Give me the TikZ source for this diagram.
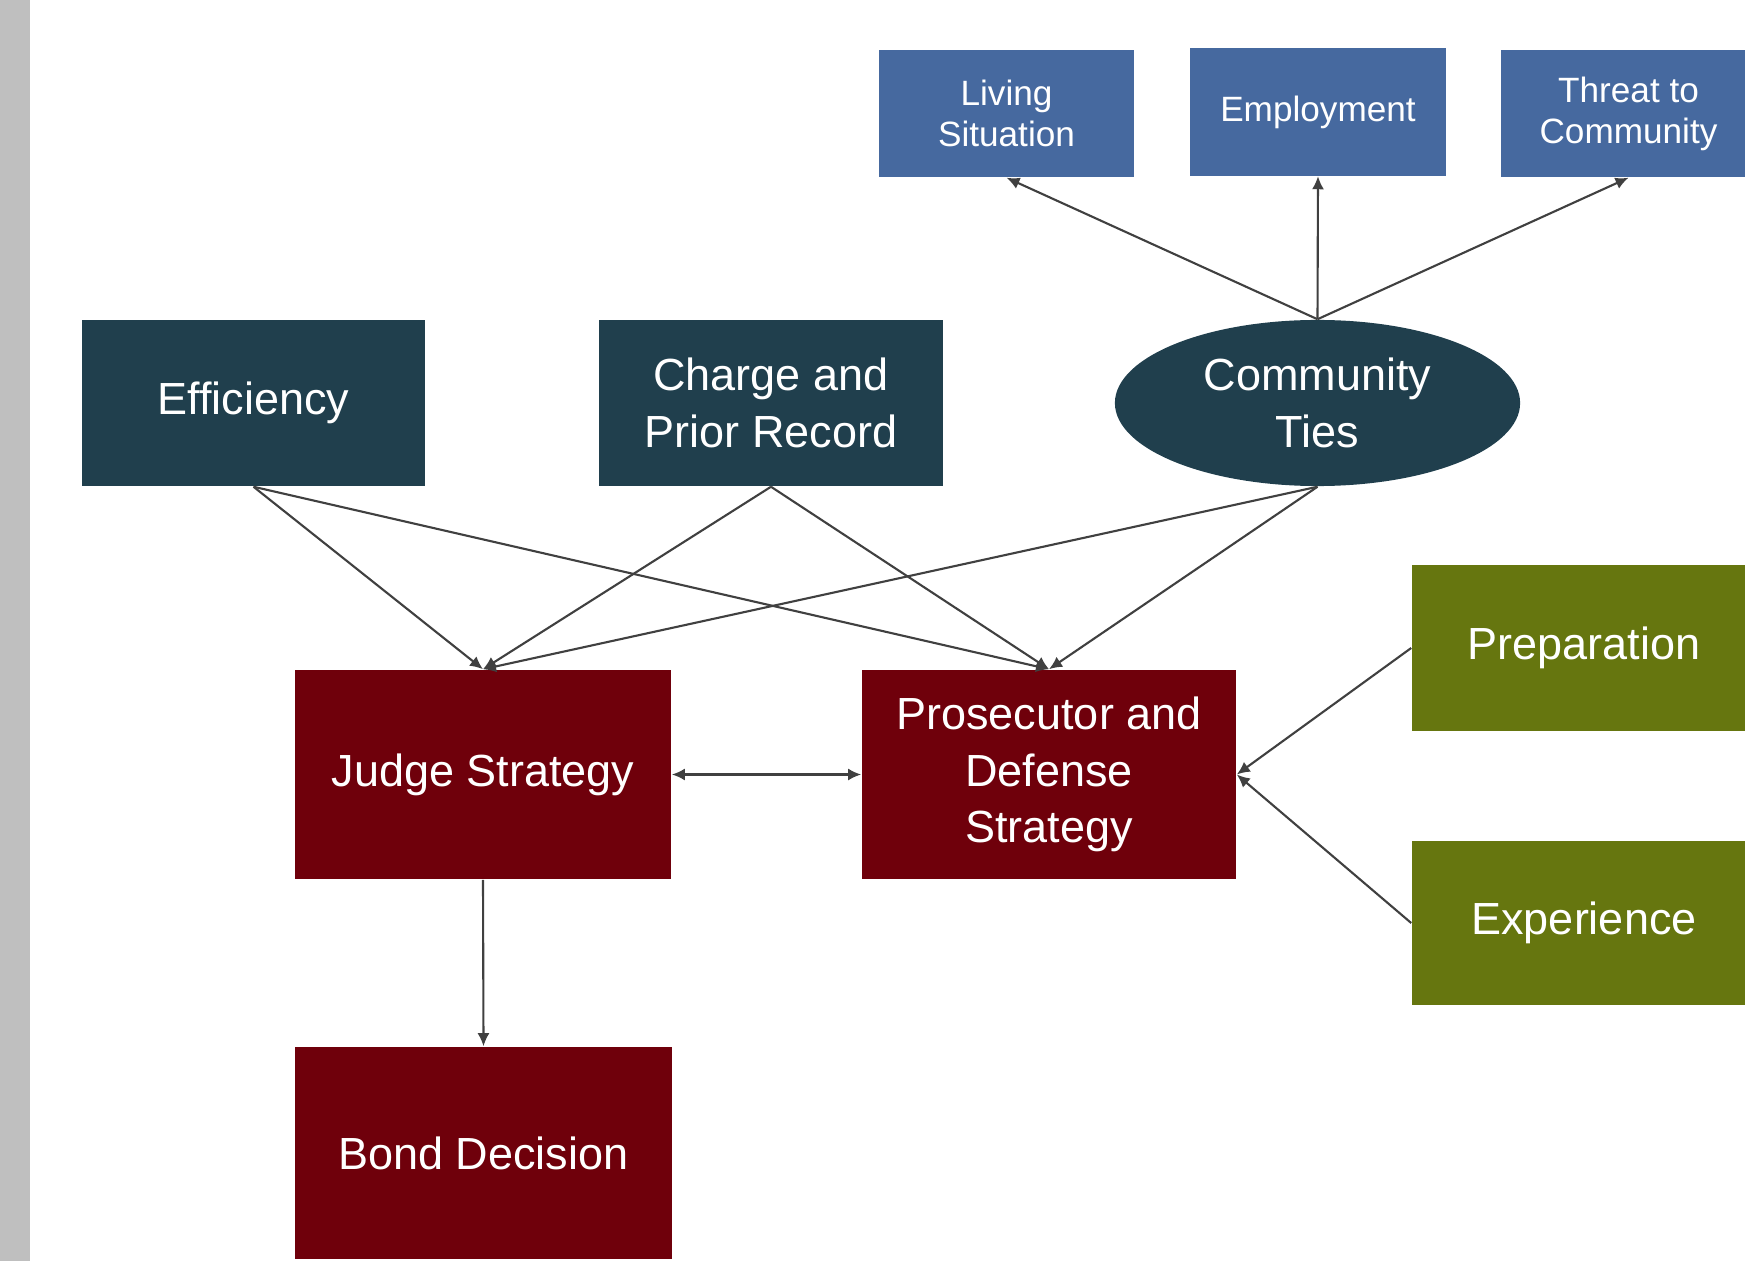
\documentclass[tikz,border=0pt]{standalone}
\usepackage{fontspec}
\setmainfont{Liberation Sans}
\usetikzlibrary{arrows.meta}
\usetikzlibrary{shapes.geometric}
\definecolor{barGray}{HTML}{BFBFBF}
\definecolor{factorBlue}{HTML}{46699F}
\definecolor{factorTeal}{HTML}{203F4D}
\definecolor{stratRed}{HTML}{6F000B}
\definecolor{skillGreen}{HTML}{66760F}
\definecolor{linkGray}{HTML}{404040}

\begin{document}
\begin{tikzpicture}[x=0.01cm,y=-0.01cm,
	every node/.style={text=white,align=center,inner sep=0pt},
	small/.style={fill=factorBlue,minimum width=2.55cm,minimum height=1.27cm,font=\fontsize{10}{11.7}\selectfont},
	big/.style={minimum width=3.43cm,minimum height=1.66cm,font=\fontsize{12.8}{16}\selectfont},
	link/.style={draw=linkGray,line width=0.6pt,-{Latex[length=1.3mm,width=1.2mm]}}]
	\useasboundingbox (0,0) rectangle (1745,1261);
	\fill[barGray] (0,0) rectangle (30,1261);

	\node[small] (living) at (1006.5,113.5) {Living\\Situation};
	\node[small] (employ) at (1318,112) {Employment};
	\node[small] (threat) at (1628.5,113.5) {Threat to\\Community};

	\node[big,fill=factorTeal] (eff) at (253.5,403) {Efficiency};
	\node[big,fill=factorTeal] (charge) at (771,403) {Charge and\\Prior Record};
	\node[big,fill=factorTeal,ellipse,minimum width=4.05cm] (ties) at (1317.5,403) {Community\\Ties};

	\node[big,fill=stratRed,minimum width=3.76cm,minimum height=2.09cm] (judge) at (483,774.5) {Judge Strategy};
	\node[big,fill=stratRed,minimum width=3.74cm,minimum height=2.09cm] (pros) at (1049,774.5) {Prosecutor and\\Defense\\Strategy};
	\node[big,fill=stratRed,minimum width=3.76cm,minimum height=2.12cm] (bond) at (483.5,1153) {Bond Decision};

	\node[big,fill=skillGreen,minimum width=3.44cm] (prep) at (1584,648) {Preparation};
	\node[big,fill=skillGreen,minimum width=3.44cm,minimum height=1.64cm] (exper) at (1584,923) {Experience};

	\draw[link] (ties.north) -- (living.south);
	\draw[link] (ties.north) -- (employ.south);
	\draw[link] (ties.north) -- (threat.south);

	\draw[link] (eff.south) -- (judge.north);
	\draw[link] (eff.south) -- (pros.north);
	\draw[link] (charge.south) -- (judge.north);
	\draw[link] (charge.south) -- (pros.north);
	\draw[link] (ties.south) -- (judge.north);
	\draw[link] (ties.south) -- (pros.north);

	\draw[link,{Latex[length=1.3mm,width=1.2mm]}-{Latex[length=1.3mm,width=1.2mm]}] (judge.east) -- (pros.west);
	\draw[link] (prep.west) -- (pros.east);
	\draw[link] (exper.west) -- (pros.east);
	\draw[link] (judge.south) -- (bond.north);
\end{tikzpicture}
\end{document}
